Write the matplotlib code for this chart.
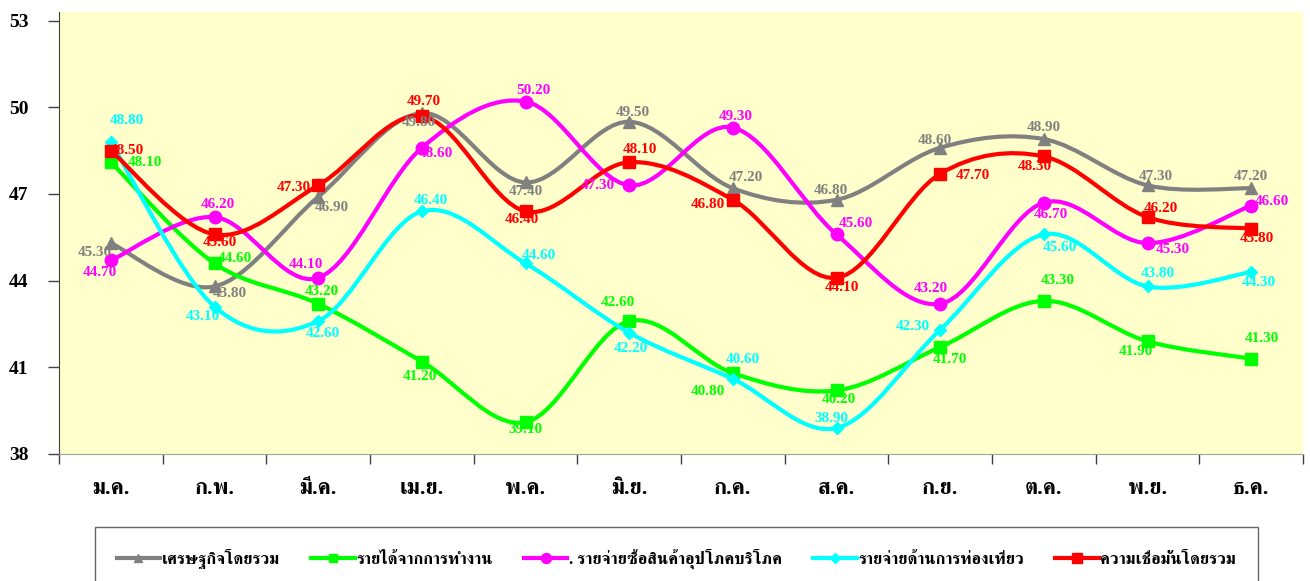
import matplotlib
matplotlib.use("Agg")
import matplotlib.pyplot as plt
from matplotlib.path import Path
from matplotlib.patches import PathPatch
from matplotlib.lines import Line2D

months = ["ม.ค.", "ก.พ.", "มี.ค.", "เม.ย.", "พ.ค.", "มิ.ย.",
          "ก.ค.", "ส.ค.", "ก.ย.", "ต.ค.", "พ.ย.", "ธ.ค."]

names = ["เศรษฐกิจโดยรวม", "รายได้จากการทำงาน", ". รายจ่ายซื้อสินค้าอุปโภคบริโภค",
         "รายจ่ายด้านการท่องเที่ยว", "ความเชื่อมั่นโดยรวม"]

economy = [45.3, 43.8, 46.9, 49.8, 47.4, 49.5, 47.2, 46.8, 48.6, 48.9, 47.3, 47.2]
income = [48.1, 44.6, 43.2, 41.2, 39.1, 42.6, 40.8, 40.2, 41.7, 43.3, 41.9, 41.3]
consumer = [44.7, 46.2, 44.1, 48.6, 50.2, 47.3, 49.3, 45.6, 43.2, 46.7, 45.3, 46.6]
tourism = [48.8, 43.1, 42.6, 46.4, 44.6, 42.2, 40.6, 38.9, 42.3, 45.6, 43.8, 44.3]
overall = [48.5, 45.6, 47.3, 49.7, 46.4, 48.1, 46.8, 44.1, 47.7, 48.3, 46.2, 45.8]

series = [economy, income, consumer, tourism, overall]
colors = ["#808080", "#00FF00", "#FF00FF", "#00FFFF", "#FF0000"]
markers = ["^", "s", "o", "D", "s"]
msizes = [8, 8, 9, 6, 9]

# label offsets in pixels (dx, dy downwards)
offsets = [
    [(-16, 9), (15, 7), (14, 11), (-3, 9), (0, 9), (4, -9), (13, -11), (-6, -9), (-5, -7), (0, -12), (8, -9), (0, -12)],
    [(34, 0), (20, -5), (4, -12), (-2, 15), (0, 7), (-11, -19), (-25, 18), (2, 9), (10, 12), (14, -20), (-12, 10), (11, -20)],
    [(-11, 12), (3, -13), (-12, -13), (14, 6), (8, -11), (-31, 0), (3, -11), (19, -11), (-9, -15), (7, 12), (25, 6), (21, -4)],
    [(16, -21), (-12, 10), (5, 12), (9, -11), (13, -8), (2, 16), (10, -19), (-5, -9), (-27, -3), (16, 13), (10, -13), (8, 11)],
    [(16, 0), (5, 8), (-24, 2), (2, -14), (-4, 8), (11, -13), (-25, 5), (5, 10), (33, 2), (-9, 10), (13, -9), (6, 10)],
]

font = ["Liberation Serif", "FreeSerif", "DejaVu Serif"]
plt.rcParams["font.family"] = font


def smooth_path(xs, ys):
    # bezier segments like the spreadsheet "smoothed line" option
    pts = list(zip(xs, ys))
    n = len(pts)
    verts = [pts[0]]
    codes = [Path.MOVETO]
    for i in range(n - 1):
        p0 = pts[i - 1] if i > 0 else pts[i]
        p1 = pts[i]
        p2 = pts[i + 1]
        p3 = pts[i + 2] if i + 2 < n else pts[i + 1]
        c1 = (p1[0] + (p2[0] - p0[0]) / 6, p1[1] + (p2[1] - p0[1]) / 6)
        c2 = (p2[0] - (p3[0] - p1[0]) / 6, p2[1] - (p3[1] - p1[1]) / 6)
        verts += [c1, c2, p2]
        codes += [Path.CURVE4] * 3
    return Path(verts, codes)


fig = plt.figure(figsize=(13.1, 5.81), dpi=100)
ax = fig.add_axes([59 / 1310, 1 - 454 / 581, (1303 - 59) / 1310, (454 - 12) / 581])
ax.set_facecolor("#FFFFCC")

x = list(range(len(months)))
handles = []
for k, vals in enumerate(series):
    patch = PathPatch(smooth_path(x, vals), facecolor="none", edgecolor=colors[k],
                      lw=3, zorder=2 + k, capstyle="round", joinstyle="round")
    ax.add_patch(patch)
    ax.plot(x, vals, linestyle="none", marker=markers[k], ms=msizes[k],
            color=colors[k], zorder=2.5 + k)
    for i, v in enumerate(vals):
        dx, dy = offsets[k][i]
        ax.annotate("%.2f" % v, (i, v), xytext=(dx, -dy), textcoords="offset pixels",
                    ha="center", va="center", color=colors[k], fontsize=11,
                    fontweight="bold", zorder=20)
    handles.append(Line2D([], [], color=colors[k], lw=3, marker=markers[k],
                          ms=msizes[k] * 0.8))

ax.set_xlim(-0.5, len(months) - 0.5)
ax.set_ylim(38, 53.3)
ax.set_yticks([38, 41, 44, 47, 50, 53])
ax.set_xticks(x)
ax.set_xticklabels(months, fontsize=16, fontweight="bold")
ax.set_xticks([i - 0.5 for i in range(len(months) + 1)], minor=True)
ax.tick_params(axis="x", which="major", length=0, pad=18)
ax.tick_params(axis="x", which="minor", length=7, width=1, color="#404040")
ax.tick_params(axis="y", length=8, width=1, color="#404040", pad=14)
for lab in ax.get_yticklabels():
    lab.set_fontweight("bold")
    lab.set_fontsize(14)
for s in ["top", "right"]:
    ax.spines[s].set_visible(False)
ax.spines["left"].set_color("#404040")
ax.spines["bottom"].set_color("#a0a0a0")

leg = fig.legend(handles, names, loc="upper left", ncol=5,
                 bbox_to_anchor=(95 / 1310, 1 - 527 / 581, (1258 - 95) / 1310, 0),
                 mode="expand", frameon=True, fancybox=False, edgecolor="#404040",
                 borderaxespad=0, handlelength=2.6, handletextpad=0.1, borderpad=1.3,
                 prop={"family": font, "weight": "bold", "size": 12})
leg.get_frame().set_linewidth(1)

fig.savefig("out.png", dpi=100)
